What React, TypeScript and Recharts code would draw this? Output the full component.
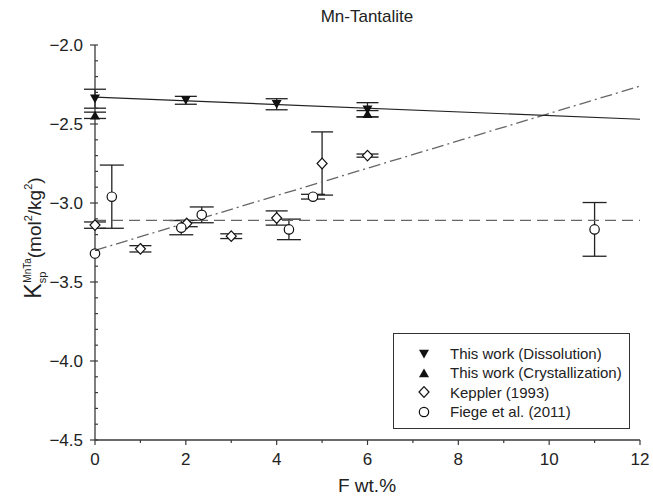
import React from 'react';
import { ComposedChart, Scatter, XAxis, YAxis, ErrorBar } from 'recharts';

// This work (Dissolution)
const dissX = [0, 2, 4, 6];
const dissY = [-2.34, -2.35, -2.375, -2.41];
const dissErr = [0.06, 0.025, 0.035, 0.045];
// This work (Crystallization)
const crystX = [0, 6];
const crystY = [-2.445, -2.435];
const crystErr = [0.02, 0.02];
// Keppler (1993)
const keppX = [0, 1, 2.02, 3, 4, 5, 6];
const keppY = [-3.14, -3.29, -3.13, -3.21, -3.095, -2.75, -2.7];
const keppErr = [0.02, 0.02, 0.02, 0.015, 0.045, 0.2, 0.01];
// Fiege et al. (2011)
const fiegeX = [0, 0.37, 1.9, 2.35, 4.27, 4.8, 11];
const fiegeY = [-3.32, -2.96, -3.156, -3.075, -3.167, -2.96, -3.167];
const fiegeErr = [0, 0.2, 0.045, 0.05, 0.065, 0.015, 0.17];
// fitted lines
const fitX = [0, 12];
const fitThisWork = [-2.33, -2.47];
const fitFiege = [-3.3, -2.26];
const fitKeppler = [-3.11, -3.11];

const xTicks = [0, 1, 2, 3, 4, 5, 6, 7, 8, 9, 10, 11, 12];
const yTicks = [
  -4.5, -4.4, -4.3, -4.2, -4.1, -4.0, -3.9, -3.8, -3.7, -3.6, -3.5, -3.4, -3.3,
  -3.2, -3.1, -3.0, -2.9, -2.8, -2.7, -2.6, -2.5, -2.4, -2.3, -2.2, -2.1, -2.0,
];

const legendItems = [
  { label: 'This work (Dissolution)', kind: 'down' },
  { label: 'This work (Crystallization)', kind: 'up' },
  { label: 'Keppler (1993)', kind: 'diamond' },
  { label: 'Fiege et al. (2011)', kind: 'circle' },
];

const FONT = '"Liberation Sans", Arial, Helvetica, sans-serif';
const INK = '#222';
const AX = '#3a3a3a';

const toPts = (xs: number[], ys: number[], es?: number[]) =>
  xs.map((x, i) => ({ x, y: ys[i], err: es ? es[i] : 0 }));

const DownTri = (p: any) => (
  <polygon
    points={`${p.cx - 5},${p.cy - 4.3} ${p.cx + 5},${p.cy - 4.3} ${p.cx},${p.cy + 4.5}`}
    fill="#111"
  />
);
const UpTri = (p: any) => (
  <polygon
    points={`${p.cx - 5},${p.cy + 4.3} ${p.cx + 5},${p.cy + 4.3} ${p.cx},${p.cy - 4.5}`}
    fill="#111"
  />
);
const Diamond = (p: any) => (
  <polygon
    points={`${p.cx},${p.cy - 5.3} ${p.cx + 5},${p.cy} ${p.cx},${p.cy + 5.3} ${p.cx - 5},${p.cy}`}
    fill="#fff"
    stroke="#111"
    strokeWidth={1.2}
  />
);
const Circ = (p: any) => <circle cx={p.cx} cy={p.cy} r={4.7} fill="#fff" stroke="#111" strokeWidth={1.2} />;
const NoShape = () => <g />;

const isMajorX = (v: number) => Math.round(v) % 2 === 0;
const isMajorY = (v: number) => Math.abs(v * 2 - Math.round(v * 2)) < 1e-6;

const BottomTick = (props: any) => {
  const { x, y, payload } = props;
  const v = payload.value;
  const major = isMajorX(v);
  const ay = y - 13;
  return (
    <g>
      <line x1={x} x2={x} y1={ay} y2={ay + (major ? 5 : 3)} stroke={AX} strokeWidth={1.2} />
      {major && (
        <text x={x} y={y} dy="0.71em" textAnchor="middle" fontSize={17} fill={INK} fontFamily={FONT}>
          {v}
        </text>
      )}
    </g>
  );
};

const TopTick = (props: any) => {
  const { x, y, payload } = props;
  const major = isMajorX(payload.value);
  return <line x1={x} x2={x} y1={y} y2={y - (major ? 5 : 3)} stroke={AX} strokeWidth={1.2} />;
};

const LeftTick = (props: any) => {
  const { x, y, payload } = props;
  const v = payload.value;
  const major = isMajorY(v);
  const ax = x + 12;
  return (
    <g>
      {major ? (
        <line x1={ax - 5} x2={ax + 3} y1={y} y2={y} stroke={AX} strokeWidth={1.2} />
      ) : (
        <line x1={ax} x2={ax + 3} y1={y} y2={y} stroke={AX} strokeWidth={1.2} />
      )}
      {major && (
        <text x={x} y={y} dy="0.36em" textAnchor="end" fontSize={17} fill={INK} fontFamily={FONT}>
          {v.toFixed(1).replace('-', '\u2212')}
        </text>
      )}
    </g>
  );
};

const LegendIcon = ({ kind }: { kind: string }) => (
  <svg width={14} height={14} style={{ display: 'block' }}>
    {kind === 'down' && <DownTri cx={7} cy={7} />}
    {kind === 'up' && <UpTri cx={7} cy={7} />}
    {kind === 'diamond' && <Diamond cx={7} cy={7} />}
    {kind === 'circle' && <Circ cx={7} cy={7} />}
  </svg>
);

export default function App() {
  return (
    <div style={{ position: 'absolute', left: 0, top: 0, width: 653, height: 498, background: '#fff', fontFamily: FONT }}>
      <ComposedChart width={653} height={498} margin={{ top: 45, right: 13, bottom: 0, left: 0 }}>
        <XAxis
          xAxisId={0}
          type="number"
          dataKey="x"
          domain={[0, 12]}
          ticks={xTicks}
          interval={0}
          height={58}
          tickSize={0}
          tickMargin={13}
          tickLine={false}
          tick={<BottomTick />}
          axisLine={{ stroke: AX, strokeWidth: 1.3 }}
        />
        <XAxis
          xAxisId="top"
          orientation="top"
          type="number"
          dataKey="x"
          domain={[0, 12]}
          ticks={xTicks}
          interval={0}
          height={0}
          tickSize={0}
          tickMargin={0}
          tickLine={false}
          tick={<TopTick />}
          axisLine={{ stroke: AX, strokeWidth: 1.3 }}
        />
        <YAxis
          yAxisId={0}
          type="number"
          dataKey="y"
          domain={[-4.5, -2.0]}
          ticks={yTicks}
          interval={0}
          width={95}
          tickSize={0}
          tickMargin={12}
          tickLine={false}
          tick={<LeftTick />}
          axisLine={{ stroke: AX, strokeWidth: 1.3 }}
        />
        <YAxis
          yAxisId="right"
          orientation="right"
          type="number"
          domain={[-4.5, -2.0]}
          width={0}
          tick={false}
          tickLine={false}
          axisLine={{ stroke: AX, strokeWidth: 1.3 }}
        />

        <Scatter
          data={toPts(fitX, fitKeppler)}
          line={{ stroke: '#666', strokeWidth: 1.3, strokeDasharray: '11 6' }}
          shape={NoShape}
          isAnimationActive={false}
        />
        <Scatter
          data={toPts(fitX, fitFiege)}
          line={{ stroke: '#666', strokeWidth: 1.3, strokeDasharray: '12 4 2 4' }}
          shape={NoShape}
          isAnimationActive={false}
        />
        <Scatter
          data={toPts(fitX, fitThisWork)}
          line={{ stroke: '#222', strokeWidth: 1.2 }}
          shape={NoShape}
          isAnimationActive={false}
        />

        <Scatter data={toPts(keppX, keppY, keppErr)} shape={Diamond} isAnimationActive={false}>
          <ErrorBar dataKey="err" direction="y" width={11} stroke="#222" strokeWidth={1.3} />
        </Scatter>
        <Scatter data={toPts(fiegeX, fiegeY, fiegeErr)} shape={Circ} isAnimationActive={false}>
          <ErrorBar dataKey="err" direction="y" width={12} stroke="#222" strokeWidth={1.3} />
        </Scatter>
        <Scatter data={toPts(crystX, crystY, crystErr)} shape={UpTri} isAnimationActive={false}>
          <ErrorBar dataKey="err" direction="y" width={11} stroke="#222" strokeWidth={1.3} />
        </Scatter>
        <Scatter data={toPts(dissX, dissY, dissErr)} shape={DownTri} isAnimationActive={false}>
          <ErrorBar dataKey="err" direction="y" width={11} stroke="#222" strokeWidth={1.3} />
        </Scatter>
      </ComposedChart>

      <svg
        width={653}
        height={498}
        style={{ position: 'absolute', left: 0, top: 0, pointerEvents: 'none' }}
        fontFamily={FONT}
      >
        <text x={367} y={22} textAnchor="middle" fontSize={17} fill={INK}>
          Mn-Tantalite
        </text>
        <text x={367} y={492} textAnchor="middle" fontSize={19} fill={INK}>
          F wt.%
        </text>
        <text transform="rotate(-90 41 238)" x={41} y={238} textAnchor="middle" fill={INK}>
          <tspan fontSize={23}>K</tspan>
          <tspan fontSize={11} dy={5}>sp</tspan>
          <tspan fontSize={10} dx={-11} dy={-15}>MnTa</tspan>
          <tspan fontSize={19} dy={10}>(mol</tspan>
          <tspan fontSize={11} dy={-9}>2</tspan>
          <tspan fontSize={19} dy={9}>/kg</tspan>
          <tspan fontSize={11} dy={-9}>2</tspan>
          <tspan fontSize={19} dy={9}>)</tspan>
        </text>
      </svg>

      <div
        style={{
          position: 'absolute',
          left: 393,
          top: 333,
          width: 237,
          height: 96,
          boxSizing: 'border-box',
          border: '1.3px solid #333',
          background: '#fff',
          paddingTop: 10,
        }}
      >
        {legendItems.map((it) => (
          <div key={it.label} style={{ display: 'flex', alignItems: 'center', height: 19.3 }}>
            <div style={{ width: 56, flexShrink: 0, boxSizing: 'border-box', paddingLeft: 23 }}>
              <LegendIcon kind={it.kind} />
            </div>
            <span style={{ fontSize: 15, color: INK, whiteSpace: 'nowrap' }}>{it.label}</span>
          </div>
        ))}
      </div>
    </div>
  );
}
